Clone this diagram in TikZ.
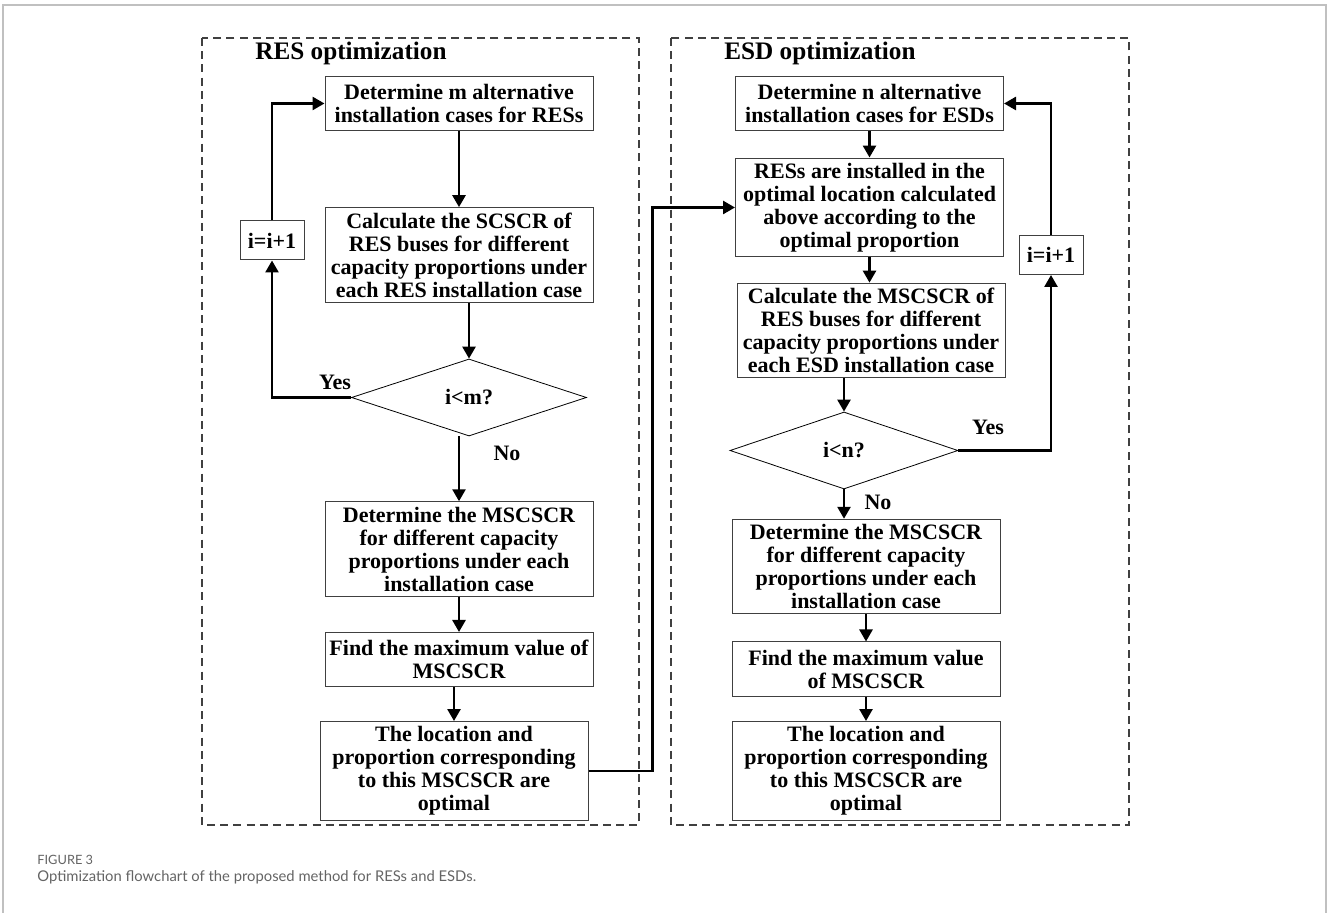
\documentclass[tikz,border=0pt]{standalone}
\usepackage{fontspec}
\setmainfont{Liberation Serif}
\newfontfamily\capfont{Lato}
\usetikzlibrary{arrows.meta, calc, shapes.geometric}
\definecolor{framegray}{RGB}{192,192,192}
\definecolor{capgray}{RGB}{100,100,100}
\tikzset{
  box/.style   ={draw=black!75, line width=0.5pt, align=center, inner xsep=1pt, inner ysep=2.5pt,
                 minimum width=134pt, minimum height=27pt, font=\fontsize{11}{11.5}\selectfont\bfseries},
  cnt/.style   ={draw=black!75, line width=0.5pt, inner sep=0pt, minimum width=32pt, minimum height=19.5pt,
                 font=\fontsize{11}{11.5}\selectfont\bfseries},              % counter box i=i+1
  dec/.style   ={draw, diamond, line width=0.4pt, inner sep=0pt, font=\fontsize{11}{11.5}\selectfont\bfseries},
  flow/.style  ={-{Triangle[length=6pt, width=6.5pt]}, line width=1.3pt},     % main flow
  lbl/.style   ={font=\fontsize{11}{11.5}\selectfont\bfseries},
  ttl/.style   ={anchor=west, inner sep=0pt, font=\fontsize{12.6}{14}\selectfont\bfseries},
  grp/.style   ={draw=black!75, line width=0.6pt, dash pattern=on 4pt off 2.6pt}, % dashed group frame
}

\begin{document}
\begin{tikzpicture}[x=0.5pt, y=-0.5pt]
  \useasboundingbox (0,0) rectangle (1327,913);
  \draw[framegray, line width=0.6pt] (3,913) -- (3,5) -- (1326,5) -- (1326,913);

  % LEFT: RES optimization
  \draw[grp] (202,38) rectangle (639,825);
  \node[ttl] (tA) at (255,53) {RES optimization};
  \node[box] (A1) at (459,103.5) {Determine m alternative\\installation cases for RESs};
  \node[box] (A2) at (459,255)   {Calculate the SCSCR of\\RES buses for different\\capacity proportions under\\each RES installation case};
  \node[dec, minimum width=117.5pt, minimum height=38.5pt] (A3) at (469,397.5) {i<m?};
  \node[cnt] (Ac) at (272,240.5) {i=i+1};
  \node[box] (A4) at (459,549)   {Determine the MSCSCR\\for different capacity\\proportions under each\\installation case};
  \node[box] (A5) at (459,659.5) {Find the maximum value of\\MSCSCR};
  \node[box] (A6) at (454,771)   {The location and\\proportion corresponding\\to this MSCSCR are\\optimal};
  \node[lbl] (yA) at (335,382) {Yes};
  \node[lbl] (nA) at (507,453) {No};
  \draw[flow] (A1) -- (A2);
  \draw[flow] (A3.north |- A2.south) -- (A3.north);
  \draw[flow] (A3.west) -| (Ac.south);
  \draw[flow] (Ac.north) |- (A1.west);
  \draw[flow] (A4.north |- A3.south) -- (A4.north);
  \draw[flow] (A4) -- (A5);
  \draw[flow] (A6.north |- A5.south) -- (A6.north);

  % RIGHT: ESD optimization
  \draw[grp] (671,38) rectangle (1129,825);
  \node[ttl] (tB) at (724,53) {ESD optimization};
  \node[box] (B1) at (869.5,103.5) {Determine n alternative\\installation cases for ESDs};
  \node[box] (B2) at (869.5,207.5) {RESs are installed in the\\optimal location calculated\\above according to the\\optimal proportion};
  \node[box] (B3) at (871,330.5)   {Calculate the MSCSCR of\\RES buses for different\\capacity proportions under\\each ESD installation case};
  \node[dec, minimum width=114pt, minimum height=38.5pt] (B4) at (844,450.5) {i<n?};
  \node[cnt] (Bc) at (1051,255) {i=i+1};
  \node[box] (B5) at (866,566.5) {Determine the MSCSCR\\for different capacity\\proportions under each\\installation case};
  \node[box] (B6) at (866,669)   {Find the maximum value\\of MSCSCR};
  \node[box] (B7) at (866,771)   {The location and\\proportion corresponding\\to this MSCSCR are\\optimal};
  \node[lbl] (yB) at (988,427) {Yes};
  \node[lbl] (nB) at (878,502) {No};
  \draw[flow] (B1) -- (B2);
  \draw[flow] (B2.south) -- (B2.south |- B3.north);
  \draw[flow] (B4.north |- B3.south) -- (B4.north);
  \draw[flow] (B4.east) -| (Bc.south);
  \draw[flow] (Bc.north) |- (B1.east);
  \draw[flow] (B4.south) -- (B4.south |- B5.north);
  \draw[flow] (B5) -- (B6);
  \draw[flow] (B6) -- (B7);

  % hand-over between the two stages
  \draw[flow] (A6.east) -- ++(64,0) |- (B2.west);

  % caption
  \node[anchor=west, inner sep=0pt, text=capgray, font=\capfont\fontsize{6.4}{7}\selectfont] (fig) at (37,860) {FIGURE 3};
  \node[anchor=west, inner sep=0pt, text=capgray, font=\capfont\fontsize{7.4}{9}\selectfont] (cap) at (37,877)
    {Optimization flowchart of the proposed method for RESs and ESDs.};
\end{tikzpicture}
\end{document}
